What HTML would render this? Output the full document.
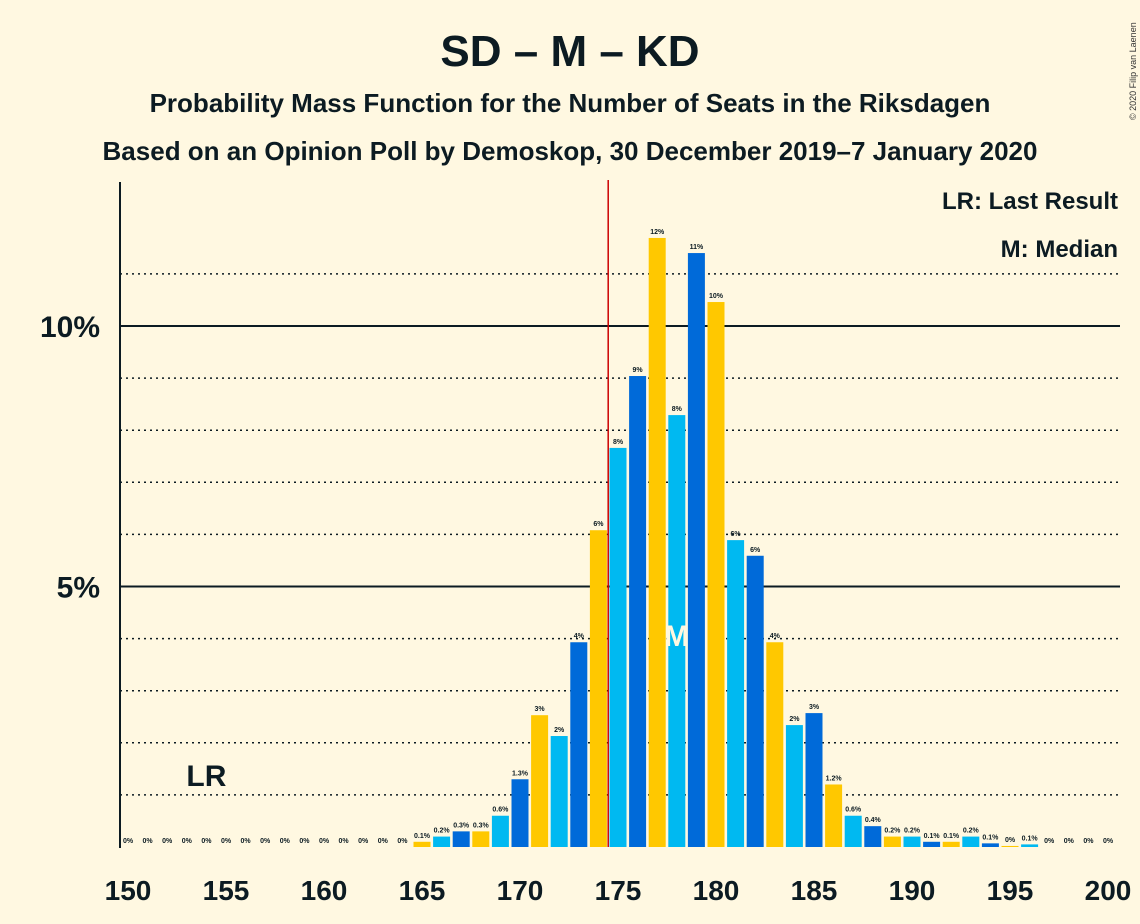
<!DOCTYPE html>
<html><head><meta charset="utf-8"><style>
html,body{margin:0;padding:0;background:#FFF8E1;}
svg{display:block;font-family:"Liberation Sans",sans-serif;}
</style></head><body>
<svg id="chart" width="1140" height="924" viewBox="0 0 1140 924">
<rect width="1140" height="924" fill="#FFF8E1"/>
<text x="570" y="66" text-anchor="middle" font-size="44" font-weight="bold" fill="#0c1b22">SD – M – KD</text>
<text x="570" y="112" text-anchor="middle" font-size="26" font-weight="bold" fill="#0c1b22">Probability Mass Function for the Number of Seats in the Riksdagen</text>
<text x="570" y="160" text-anchor="middle" font-size="26" font-weight="bold" fill="#0c1b22">Based on an Opinion Poll by Demoskop, 30 December 2019–7 January 2020</text>
<text x="1118" y="209" text-anchor="end" font-size="24" font-weight="bold" fill="#0c1b22">LR: Last Result</text>
<text x="1118" y="257" text-anchor="end" font-size="24" font-weight="bold" fill="#0c1b22">M: Median</text>
<text transform="translate(1136,120) rotate(-90)" font-size="9" fill="#333">© 2020 Filip van Laenen</text>
<g id="grid"></g>
<g id="bars"></g>
<g id="labels"></g>
<line x1="120" y1="182" x2="120" y2="848" stroke="#0c1b22" stroke-width="2"/>
</svg>
<script>
const seats = [150,151,152,153,154,155,156,157,158,159,160,161,162,163,164,165,166,167,168,169,170,171,172,173,174,175,176,177,178,179,180,181,182,183,184,185,186,187,188,189,190,191,192,193,194,195,196,197,198,199,200];
const probs = [0,0,0,0,0,0,0,0,0,0,0,0,0,0,0,0.1,0.2,0.3,0.3,0.6,1.3,2.53,2.13,3.93,6.08,7.66,9.04,11.69,8.29,11.4,10.46,5.89,5.59,3.93,2.34,2.57,1.2,0.6,0.4,0.2,0.2,0.1,0.1,0.2,0.07,0.02,0.05,0,0,0,0];
const printed = ["0%","0%","0%","0%","0%","0%","0%","0%","0%","0%","0%","0%","0%","0%","0%","0.1%","0.2%","0.3%","0.3%","0.6%","1.3%","3%","2%","4%","6%","8%","9%","12%","8%","11%","10%","6%","6%","4%","2%","3%","1.2%","0.6%","0.4%","0.2%","0.2%","0.1%","0.1%","0.2%","0.1%","0%","0.1%","0%","0%","0%","0%"];
const xTicks = [150,155,160,165,170,175,180,185,190,195,200];
const yGrid = [1,2,3,4,5,6,7,8,9,10,11];
const yLabels = [5,10];
const lastResult = 154;
const median = 178;
const majority = 174.5;
const colors = ["#FFC800","#00B9F1","#006AD9"];
const NS="http://www.w3.org/2000/svg";
function xs(s){return 128+(s-150)*19.6;}
function ys(v){return 847-v*52.1;}
function mk(tag,attrs,parent){const e=document.createElementNS(NS,tag);for(const k in attrs)e.setAttribute(k,attrs[k]);parent.appendChild(e);return e;}
const svg=document.getElementById('chart');
const grid=document.getElementById('grid'),bars=document.getElementById('bars'),labels=document.getElementById('labels');
yGrid.forEach(v=>{
  const major=v%5===0;
  const l=mk('line',{x1:120,x2:1120,y1:ys(v),y2:ys(v),stroke:'#0c1b22','stroke-width':major?2:1.5,'stroke-dasharray':major?'':'2,4'},grid);
  
  
});
yLabels.forEach(v=>{
  const t=mk('text',{x:100,y:ys(v)+11,'text-anchor':'end','font-size':30,'font-weight':'bold',fill:'#0c1b22'},labels);
  t.textContent=v+'%';
  
  
});
xTicks.forEach(s=>{
  const t=mk('text',{x:xs(s),y:900,'text-anchor':'middle','font-size':28,'font-weight':'bold',fill:'#0c1b22'},labels);
  t.textContent=s;
  
  
});
seats.forEach((s,i)=>{
  const v=probs[i];
  const r=mk('rect',{x:xs(s)-8.5,y:ys(v),width:17,height:847-ys(v),fill:colors[s%3]},bars);
  
  
  const t=mk('text',{x:xs(s),y:ys(v)-4,'text-anchor':'middle','font-size':7,'font-weight':'bold',fill:'#0c1b22'},labels);
  t.textContent=printed[i];
  
  
});
const ml=mk('line',{x1:xs(majority),x2:xs(majority),y1:180,y2:847,stroke:'#cc0000','stroke-width':1.5},svg);


const lr=mk('text',{x:xs(lastResult),y:786,'text-anchor':'middle','font-size':30,'font-weight':'bold',fill:'#0c1b22'},svg);
lr.textContent='LR';


const md=mk('text',{x:xs(median),y:646,'text-anchor':'middle','font-size':30,'font-weight':'bold',fill:'#FFF8E1'},svg);
md.textContent='M';


</script>
</body></html>
